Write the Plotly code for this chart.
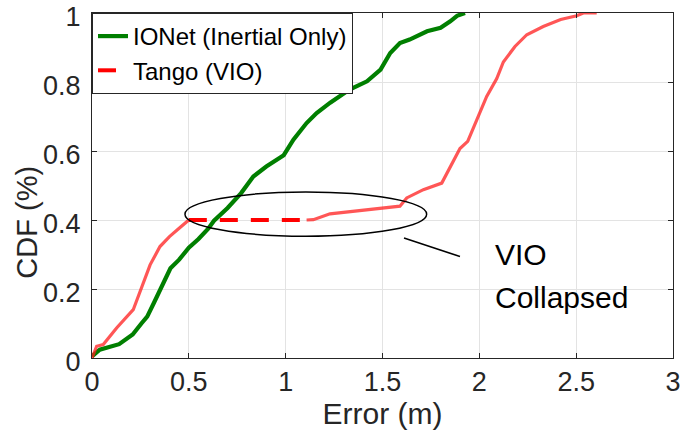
import plotly.graph_objects as go

# IONet (Inertial Only) CDF
ionet_x = [0.0, 0.04, 0.14, 0.21, 0.255, 0.285, 0.32, 0.36, 0.405, 0.45, 0.5, 0.55, 0.6, 0.63, 0.7,
           0.77, 0.833, 0.9, 0.99, 1.04, 1.108, 1.16, 1.23, 1.33, 1.42, 1.49, 1.54, 1.59, 1.64, 1.73,
           1.8, 1.85, 1.885, 1.926]
ionet_y = [0.005, 0.024, 0.04, 0.068, 0.1, 0.12, 0.16, 0.21, 0.26, 0.285, 0.32, 0.345, 0.375, 0.398, 0.435,
           0.478, 0.526, 0.555, 0.588, 0.633, 0.681, 0.71, 0.74, 0.778, 0.802, 0.836, 0.884, 0.913, 0.923, 0.947,
           0.957, 0.976, 0.992, 1.0]

# Tango (VIO) CDF, solid parts (gap where VIO collapsed)
tango_x = [0.0, 0.024, 0.058, 0.127, 0.213, 0.256, 0.3, 0.351, 0.4, 0.45, 0.5, None,
           1.108, 1.143, 1.229, 1.487, 1.59, 1.625, 1.711, 1.806, 1.849, 1.9, 1.94, 1.99, 2.038,
           2.09, 2.124, 2.184, 2.245, 2.33, 2.42, 2.503, 2.537, 2.606]
tango_y = [0.0, 0.034, 0.039, 0.087, 0.14, 0.205, 0.27, 0.323, 0.352, 0.376, 0.4, None,
           0.4, 0.401, 0.418, 0.435, 0.44, 0.464, 0.488, 0.507, 0.555, 0.607, 0.628, 0.695, 0.758,
           0.81, 0.858, 0.903, 0.937, 0.961, 0.981, 0.992, 1.0, 1.0]

# Collapsed segment (dashed)
collapse_x = [0.5, 1.108]
collapse_y = [0.4, 0.4]

x_ticks = [0, 0.5, 1, 1.5, 2, 2.5, 3]
x_tick_text = ["0", "0.5", "1", "1.5", "2", "2.5", "3"]
y_ticks = [0, 0.2, 0.4, 0.6, 0.8, 1]
y_tick_text = ["0", "0.2", "0.4", "0.6", "0.8", "1"]

FONT = "Liberation Sans, Arial, Helvetica, sans-serif"

fig = go.Figure()
fig.add_trace(go.Scatter(x=ionet_x, y=ionet_y, mode="lines", name="IONet (Inertial Only)",
                         line=dict(color="#007f00", width=4.2)))
fig.add_trace(go.Scatter(x=tango_x, y=tango_y, mode="lines", showlegend=False,
                         connectgaps=False,
                         line=dict(color="rgba(255,30,30,0.75)", width=3.2)))
fig.add_trace(go.Scatter(x=collapse_x, y=collapse_y, mode="lines", name="Tango (VIO)",
                         line=dict(color="#ff0000", width=4, dash="18px,13px")))

# ellipse and pointer line
fig.add_shape(type="circle", xref="x", yref="y", x0=0.48, x1=1.728, y0=0.353, y1=0.481,
              line=dict(color="black", width=1.5))
fig.add_shape(type="line", xref="x", yref="y", x0=1.611, y0=0.348, x1=1.9, y1=0.294,
              line=dict(color="black", width=1.5))

fig.add_annotation(x=2.072, y=0.3, xref="x", yref="y", text="VIO", showarrow=False,
                   xanchor="left", yanchor="middle", font=dict(size=30, color="black", family=FONT))
fig.add_annotation(x=2.072, y=0.175, xref="x", yref="y", text="Collapsed", showarrow=False,
                   xanchor="left", yanchor="middle", font=dict(size=30, color="black", family=FONT))

# y-axis title (placed like the original, slightly below centre)
fig.add_annotation(x=-0.112, y=0.395, xref="paper", yref="paper", text="CDF (%)", showarrow=False,
                   textangle=-90, xanchor="center", yanchor="middle",
                   font=dict(size=29, color="#262626", family=FONT))

axis_common = dict(showgrid=True, gridcolor="#e3e3e3", gridwidth=1, zeroline=False,
                   showline=True, linecolor="#262626", linewidth=1, mirror="ticks",
                   ticks="inside", ticklen=5, tickcolor="#262626",
                   ticklabeloverflow="allow", automargin=False,
                   tickfont=dict(size=27, color="#262626", family=FONT))

fig.update_xaxes(range=[0, 3], tickvals=x_ticks, ticktext=x_tick_text,
                 title=dict(text="Error (m)", font=dict(size=30, color="#262626", family=FONT), standoff=2),
                 **axis_common)
fig.update_yaxes(range=[0, 1], tickvals=y_ticks, ticktext=y_tick_text,
                 ticklabelstandoff=5, ticklabelshift=4,
                 **axis_common)

fig.update_layout(
    width=681, height=434,
    margin=dict(l=92, r=8, t=13, b=76, autoexpand=False),
    paper_bgcolor="white", plot_bgcolor="white",
    font=dict(family=FONT, color="#262626"),
    showlegend=True,
    legend=dict(x=0, y=1, xanchor="left", yanchor="top", bgcolor="white",
                bordercolor="#262626", borderwidth=1,
                font=dict(size=24, color="black", family=FONT),
                tracegroupgap=0, itemwidth=30),
)

fig.write_html("out.html")
